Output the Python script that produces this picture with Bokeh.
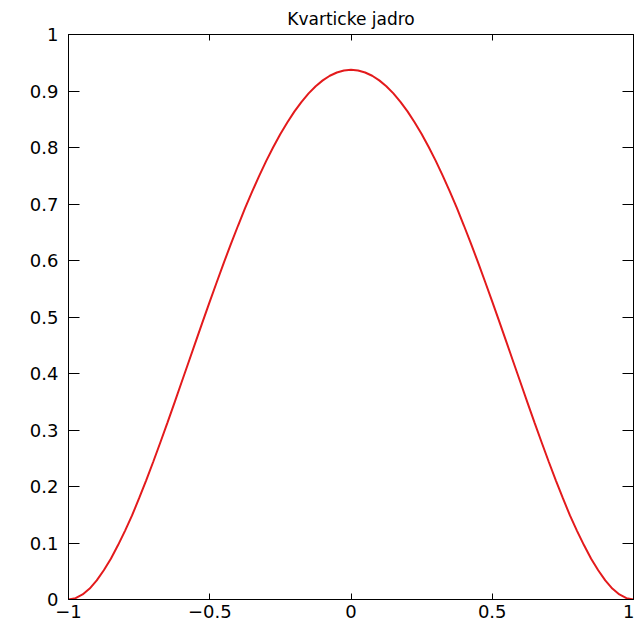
from bokeh.plotting import figure
from bokeh.models import LinearAxis, FixedTicker, Range1d
from bokeh.embed import file_html
from bokeh.resources import INLINE

# Quartic kernel samples (u, K(u)), step 0.025
u = [-1.0, -0.975, -0.95, -0.925, -0.9, -0.875, -0.85, -0.825, -0.8, -0.775,
     -0.75, -0.725, -0.7, -0.675, -0.65, -0.625, -0.6, -0.575, -0.55, -0.525,
     -0.5, -0.475, -0.45, -0.425, -0.4, -0.375, -0.35, -0.325, -0.3, -0.275,
     -0.25, -0.225, -0.2, -0.175, -0.15, -0.125, -0.1, -0.075, -0.05, -0.025,
     0.0,
     0.025, 0.05, 0.075, 0.1, 0.125, 0.15, 0.175, 0.2, 0.225, 0.25,
     0.275, 0.3, 0.325, 0.35, 0.375, 0.4, 0.425, 0.45, 0.475, 0.5,
     0.525, 0.55, 0.575, 0.6, 0.625, 0.65, 0.675, 0.7, 0.725, 0.75,
     0.775, 0.8, 0.825, 0.85, 0.875, 0.9, 0.925, 0.95, 0.975, 1.0]
k = [0.0, 0.0023, 0.0089, 0.0194, 0.0338, 0.0517, 0.0722, 0.0959, 0.1215, 0.1488,
     0.1794, 0.2109, 0.2438, 0.2779, 0.3127, 0.3480, 0.3840, 0.4199, 0.4561, 0.4918,
     0.5273, 0.5620, 0.5963, 0.6294, 0.6615, 0.6926, 0.7219, 0.7499, 0.7763, 0.8009,
     0.8240, 0.8447, 0.8640, 0.8808, 0.8958, 0.9084, 0.9188, 0.9270, 0.9328, 0.9363,
     0.9375,
     0.9363, 0.9328, 0.9270, 0.9188, 0.9084, 0.8958, 0.8808, 0.8640, 0.8447, 0.8240,
     0.8009, 0.7763, 0.7499, 0.7219, 0.6926, 0.6615, 0.6294, 0.5963, 0.5620, 0.5273,
     0.4918, 0.4561, 0.4199, 0.3840, 0.3480, 0.3127, 0.2779, 0.2438, 0.2109, 0.1794,
     0.1488, 0.1215, 0.0959, 0.0722, 0.0517, 0.0338, 0.0194, 0.0089, 0.0023, 0.0]

x_ticks = [-1, -0.5, 0, 0.5, 1]
x_tick_labels = ["\u22121", "\u22120.5", "0", "0.5", "1"]
y_ticks = [0, 0.1, 0.2, 0.3, 0.4, 0.5, 0.6, 0.7, 0.8, 0.9, 1]
y_tick_labels = ["0", "0.1", "0.2", "0.3", "0.4", "0.5", "0.6", "0.7", "0.8", "0.9", "1"]

FONT = "DejaVu Sans"

p = figure(width=634, height=624, output_backend="svg", toolbar_location=None,
           x_range=Range1d(-1, 1), y_range=Range1d(0, 1),
           x_axis_location=None, y_axis_location=None,
           min_border_left=68, min_border_right=1, min_border_top=33, min_border_bottom=25,
           background_fill_color="white", border_fill_color="white")
p.grid.visible = False
p.outline_line_color = "#333333"
p.outline_line_width = 1

p.title.text = "Kvarticke jadro"
p.title.align = "center"
p.title.text_font = FONT
p.title.text_font_size = "17px"
p.title.text_font_style = "normal"
p.title.text_color = "black"
p.title.standoff = 12


def make_axis(ticks, labels, show_labels, tick_len):
    ax = LinearAxis(ticker=FixedTicker(ticks=ticks))
    ax.major_label_overrides = {t: l for t, l in zip(ticks, labels)}
    ax.major_tick_in = tick_len
    ax.major_tick_out = 0
    ax.minor_tick_in = 0
    ax.minor_tick_out = 0
    ax.axis_line_color = "black"
    ax.major_tick_line_color = "black"
    ax.major_label_text_font = FONT
    ax.major_label_text_font_size = "18px"
    ax.major_label_text_color = "black"
    if not show_labels:
        ax.major_label_text_alpha = 0
    return ax


xb = make_axis(x_ticks, x_tick_labels, True, 6)
xb.major_label_standoff = 5
yl = make_axis(y_ticks, y_tick_labels, True, 11)
yl.major_label_standoff = 10
xt = make_axis(x_ticks, x_tick_labels, False, 6)
xt.major_label_standoff = 0
xt.major_label_text_font_size = "1px"
yr = make_axis(y_ticks, y_tick_labels, False, 11)
yr.major_label_standoff = 0
yr.major_label_text_font_size = "1px"

p.add_layout(xb, "below")
p.add_layout(yl, "left")
p.add_layout(xt, "above")
p.add_layout(yr, "right")

p.line(u, k, line_color="#e31a1c", line_width=2)

open("out.html", "w").write(file_html(p, INLINE))
